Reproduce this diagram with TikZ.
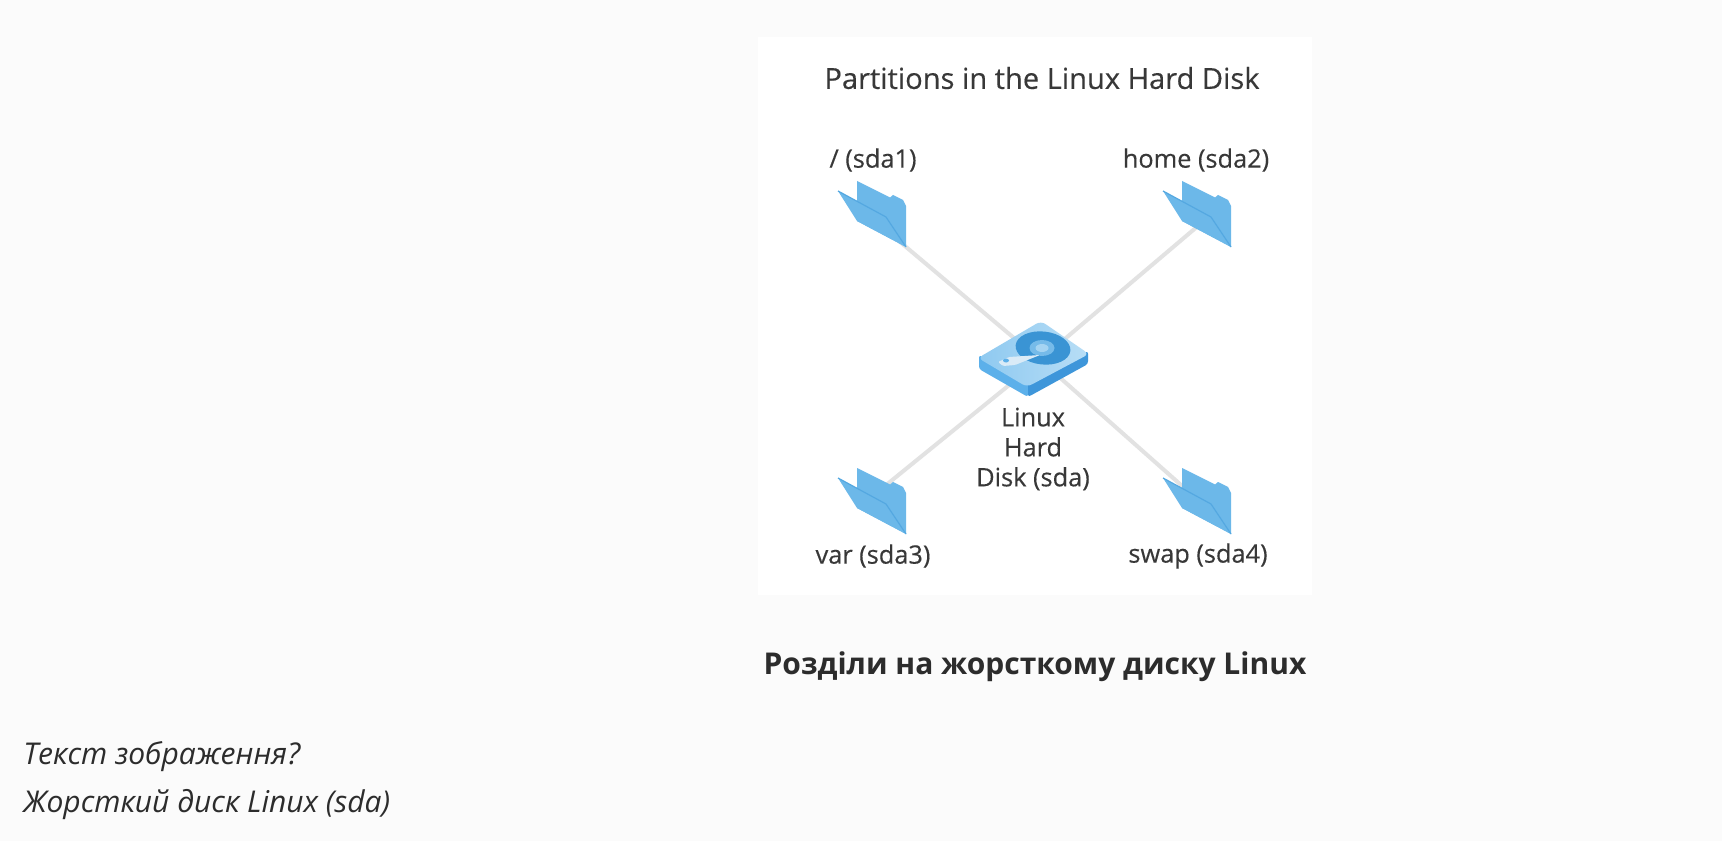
\documentclass[tikz,border=0pt]{standalone}
\usepackage{fontspec}
\setmainfont{Open Sans}
\newfontfamily\diagfont{Open Sans}[RawFeature={embolden=0.3}]
\usetikzlibrary{positioning}
\definecolor{pagegray}{RGB}{251,251,251}
\definecolor{textgray}{RGB}{56,56,56}
\definecolor{captiongray}{RGB}{44,44,44}
\definecolor{linegray}{RGB}{226,226,226}
\definecolor{folderblue}{RGB}{108,184,233}
\definecolor{folderedge}{RGB}{84,168,225}
\definecolor{diskfaceA}{RGB}{142,201,240}
\definecolor{diskfaceB}{RGB}{184,222,246}
\definecolor{diskleft}{RGB}{92,176,234}
\definecolor{diskright}{RGB}{62,150,218}
\definecolor{platter}{RGB}{58,148,212}
\definecolor{platterring}{RGB}{118,187,233}
\definecolor{platterhub}{RGB}{165,212,242}
\definecolor{armwhite}{RGB}{218,235,247}
\tikzset{
    lbl/.style={text=textgray, font=\diagfont\fontsize{19}{22.5}\selectfont, align=center, inner sep=0pt},
    link/.style={draw=linegray, line width=3pt},
    folder/.pic={
        \fill[folderblue] (-16,-35) -- (17,-18.5) -- (20,-21) -- (30,-16) -- (33,-10) -- (33,31) -- (-16,5) -- cycle;
        \fill[folderblue] (-35,-25) -- (13,1) -- (33,31) -- (-16,5) -- cycle;
        \draw[folderedge, line width=0.9pt] (-35,-25) -- (13,1) -- (33,31);
    }
}

\begin{document}
\begin{tikzpicture}[x=0.75pt, y=-0.75pt]
    % Page and picture panel
    \fill[pagegray] (0,0) rectangle (1722,841);
    \fill[white] (758,37) rectangle (1312,595);

    \node[text=textgray, font=\diagfont\fontsize{21.8}{26}\selectfont, inner sep=0pt] (title) at (1042,78) {Partitions in the Linux Hard Disk};

    % Connectors
    \coordinate (disk) at (1040,360);
    \coordinate (rootend) at (880,225);
    \coordinate (homeend) at (1205,220);
    \coordinate (varend) at (880,490);
    \coordinate (swapend) at (1190,493);
    \foreach \part in {root, home, var, swap}
        \draw[link] (disk) -- (\part end);

    % Folders
    \coordinate (root) at (873,216);
    \coordinate (home) at (1198,216);
    \coordinate (var) at (873,503);
    \coordinate (swap) at (1198,503);
    \foreach \part in {root, home, var, swap}
        \pic at (\part) {folder};

    % Hard disk
    \fill[diskleft, rounded corners=2pt] (979,355) -- (979,369) -- (1028,397) -- (1028,382) -- cycle;
    \fill[diskright, rounded corners=2pt] (1028,382) -- (1028,397) -- (1088,364) -- (1088,351) -- cycle;
    \shade[left color=diskfaceA, right color=diskfaceB, rounded corners=4pt] (978,358) -- (1041,321) -- (1089,354) -- (1027,387) -- cycle;
    \fill[platter, rotate around={-6:(1043,348)}] (1043,348) ellipse (27.5 and 16.5);
    \fill[platterring] (1042,348) ellipse (12.5 and 8);
    \fill[platterhub] (1042,348) ellipse (6.5 and 4);
    \fill[armwhite, rounded corners=1pt] (998,362) -- (1009,357) -- (1040,355) -- (1015,365) -- (1003,366) -- cycle;
    \fill[diskleft] (1006,360.5) ellipse (3 and 2);

    % Labels
    \node[lbl] (rootlbl) at (873,160) {/ (sda1)};
    \node[lbl] (homelbl) at (1196,160) {home (sda2)};
    \node[lbl] (varlbl) at (873,556) {var (sda3)};
    \node[lbl] (swaplbl) at (1198,556) {swap (sda4)};
    \node[lbl] (disklbl) at (1033,449) {Linux\\Hard\\Disk (sda)};

    % Caption and text under the picture
    \node[text=captiongray, font=\fontsize{22.5}{27}\selectfont\bfseries, inner sep=0pt] (caption) at (1035,667) {Розділи на жорсткому диску Linux};
    \node[text=captiongray, font=\fontsize{22.5}{27}\selectfont\itshape, inner sep=0pt, anchor=base west] (alttext) at (23,764) {Текст зображення?};
    \node[text=captiongray, font=\fontsize{22.5}{27}\selectfont\itshape, inner sep=0pt, anchor=base west] (disktext) at (23,812) {Жорсткий диск Linux (sda)};
\end{tikzpicture}
\end{document}
